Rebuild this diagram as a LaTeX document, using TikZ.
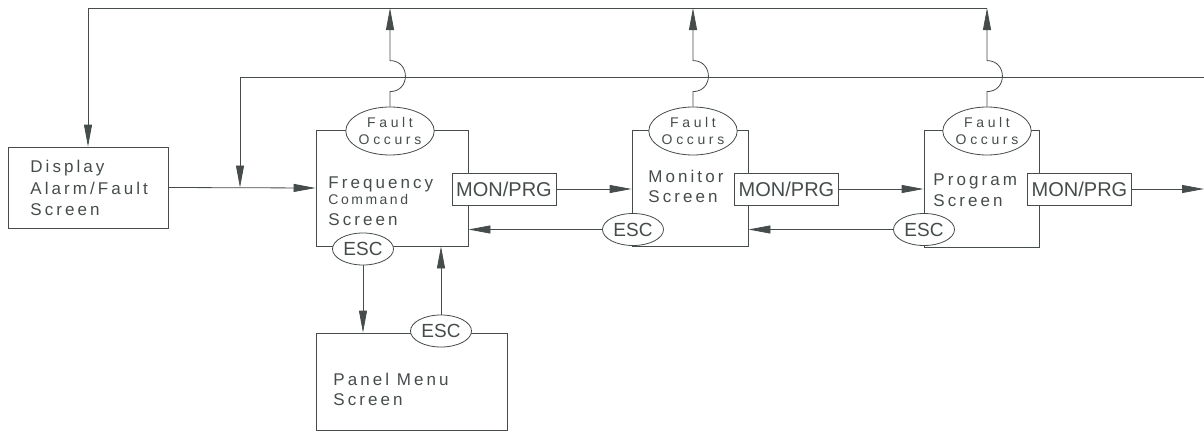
\documentclass[tikz,border=0pt]{standalone}
\usepackage{fontspec}
\setmainfont[LetterSpace=18]{Liberation Sans}
\newfontfamily\keyfont{Liberation Sans}
\newfontfamily\bubblefont[LetterSpace=26]{Liberation Sans}
\usetikzlibrary{positioning,arrows.meta,shapes.geometric}
\definecolor{ink}{HTML}{464C4C}

\begin{document}
\begin{tikzpicture}[
  x=1pt, y=-1pt,
  color=ink,
  line width=0.8pt,
  flow/.style={-{Triangle[length=22pt,width=8pt]}},
  screen/.style={draw,fill=white,inner sep=0pt},
  keybox/.style={draw,fill=white,inner sep=0pt,minimum width=104pt,
    minimum height=32pt,font=\keyfont\fontsize{20}{22}\selectfont},
  escbubble/.style={ellipse,draw,fill=white,inner sep=0pt,minimum width=61pt,
    minimum height=32pt,font=\keyfont\fontsize{19}{21}\selectfont},
  faultbubble/.style={ellipse,draw,fill=white,inner sep=0pt,minimum width=88pt,
    minimum height=48pt,align=center,font=\bubblefont\fontsize{14}{17}\selectfont},
  txt/.style={anchor=base west,inner sep=0pt,font=\fontsize{17}{20}\selectfont},
  smalltxt/.style={txt,font=\fontsize{14}{16}\selectfont}
]
\useasboundingbox (0,0) rectangle (1204,431);

% screens
\node[screen,minimum width=160pt,minimum height=81pt] (disp) at (88,187.5) {};
\node[screen,minimum width=152pt,minimum height=116pt] (freq) at (392,188) {};
\node[screen,minimum width=116pt,minimum height=116pt] (mon) at (690,188) {};
\node[screen,minimum width=115pt,minimum height=117pt] (prog) at (981.5,188.5) {};
\node[screen,minimum width=191pt,minimum height=97pt] (panel) at (411.5,381.5) {};

% screen names
\node[txt] (dispA) at (30,172) {Display};
\node[txt] (dispB) at (30,194) {Alarm/Fault};
\node[txt] (dispC) at (30,215) {Screen};
\node[txt] (freqA) at (328,188) {Frequency};
\node[smalltxt] (freqB) at (328,204) {Command};
\node[txt] (freqC) at (328,225) {Screen};
\node[txt] (monA) at (648,182) {Monitor};
\node[txt] (monB) at (648,202) {Screen};
\node[txt] (progA) at (933,185) {Program};
\node[txt] (progB) at (933,206) {Screen};
\node[txt] (panelA) at (333,385) {Panel Menu};
\node[txt] (panelB) at (333,405) {Screen};

% keys
\node[keybox] (kfreq) at (504,189) {MON/PRG};
\node[keybox] (kmon) at (786.5,189) {MON/PRG};
\node[keybox] (kprog) at (1079.5,189) {MON/PRG};
\node[escbubble] (fesc) at (363,249) {ESC};
\node[escbubble] (mesc) at (633,229.5) {ESC};
\node[escbubble] (pgesc) at (924,229.5) {ESC};
\node[escbubble] (pesc) at (441,331) {ESC};
\node[faultbubble] (ffreq) at (390,131) {Fault\\Occurs};
\node[faultbubble] (fmon) at (693,131) {Fault\\Occurs};
\node[faultbubble] (fprog) at (987,131) {Fault\\Occurs};

% buses
\coordinate (topR) at (987,8);
\coordinate (busR) at (1204,77);
\coordinate (busL) at (240,77);
\coordinate (out) at (1204,189);

\draw[flow] (topR) -- (disp.north |- topR) -- (disp.north);
\draw[flow] (busR) -- (busL) -- (busL |- disp.east);
\draw[flow] (disp.east) -- (freq.west);

% fault jumps
\foreach \f in {ffreq,fmon,fprog}{
  \draw[flow] (\f.north) -- ++(0,-15)
    to[out=0,in=0,looseness=1.7] ++(0,-31) -- (\f.north |- topR);
}

% forward and back
\draw[flow] (kfreq.east) -- (kfreq.east -| mon.west);
\draw[flow] (kmon.east) -- (kmon.east -| prog.west);
\draw[flow] (kprog.east) -- (out);
\draw[flow] (mesc.west) -- (mesc.west -| freq.east);
\draw[flow] (pgesc.west) -- (pgesc.west -| mon.east);

% panel menu
\draw[flow] (fesc.south) -- (fesc.south |- panel.north);
\draw[flow] (pesc.north) -- (pesc.north |- freq.south);
\end{tikzpicture}
\end{document}
